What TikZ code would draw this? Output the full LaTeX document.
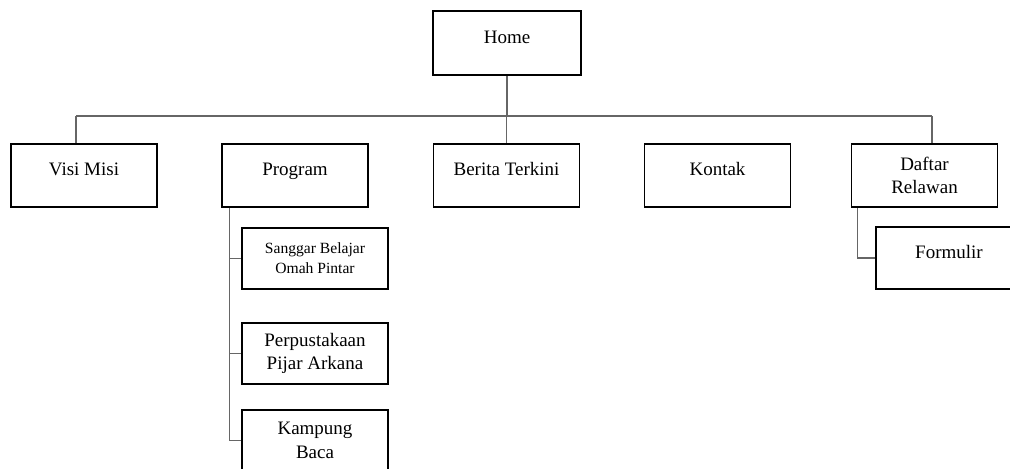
\documentclass[tikz,border=0pt]{standalone}
\usepackage{fontspec}
\setmainfont{Liberation Serif}
\usetikzlibrary{positioning,calc}

\tikzset{
    box/.style={draw=black, line width=1.2pt, fill=white, minimum width=109.5pt, minimum height=47.25pt, inner sep=0pt, align=center, font=\fontsize{14.25}{17.6}\selectfont},
    oneline/.style={text height=6pt, text depth=6pt},
    smallbox/.style={box, minimum height=45.75pt, font=\fontsize{11.7}{15}\selectfont},
    link/.style={draw=black!60, line width=0.8pt}
}

\begin{document}
\begin{tikzpicture}[x=0.75pt, y=-0.75pt]

                % Page frame
                \useasboundingbox (0,0) rectangle (1010,468);

                % Bus points
                \coordinate (busL) at (76,116);
                \coordinate (busR) at (932,116);

                % Top
                \node[box, oneline, minimum width=111pt, minimum height=48pt] (home) at (507,43) {Home};

                % First level
                \node[box, oneline] (visi) at (84,175.5) {Visi Misi};
                \node[box, oneline] (program) at (295,175.5) {Program};
                \node[box, oneline] (berita) at (506.5,175.5) {Berita Terkini};
                \node[box, oneline] (kontak) at (717.5,175.5) {Kontak};
                \node[box] (daftar) at (924.5,175.5) {Daftar\\Relawan};

                % Under Program
                \node[smallbox] (sanggar) at (315,258.5) {Sanggar Belajar\\Omah Pintar};
                \node[box, minimum height=45.75pt] (perpus) at (315,353.5) {Perpustakaan\\Pijar Arkana};
                \node[box, minimum height=45.75pt] (kampung) at (315,440.5) {Kampung\\Baca};

                % Under Daftar Relawan
                \node[box, oneline, minimum height=46.5pt] (formulir) at (949,258) {Formulir};

                % Connectors
                \draw[link] (busL) -- (busR);
                \draw[link] (home.south) -- (home.south |- busL);
                \draw[link] (busL) -- (busL |- visi.north);
                \draw[link] ($(program.north)+(-2,0)$) -- ($(program.north)+(-2,0)$ |- busL);
                \draw[link] (berita.north) -- (berita.north |- busL);
                \draw[link] ($(kontak.north)+(-4.5,0)$) -- ($(kontak.north)+(-4.5,0)$ |- busL);
                \draw[link] (busR) -- (busR |- daftar.north);

                % Program branches
                \coordinate (progTrunk) at ($(program.south west)+(8,0)$);
                \draw[link] (progTrunk) |- (sanggar.west);
                \draw[link] (progTrunk) |- (perpus.west);
                \draw[link] (progTrunk) |- (kampung.west);

                % Daftar branch
                \coordinate (daftarTrunk) at ($(daftar.south west)+(7,0)$);
                \draw[link] (daftarTrunk) |- (formulir.west);
            \end{tikzpicture}
\end{document}
